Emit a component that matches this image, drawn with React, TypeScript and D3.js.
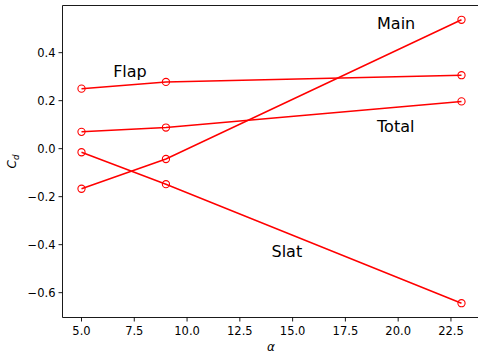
import React from "react";
import * as d3 from "d3";

const alpha = [5, 9, 23];
const flap = [0.25, 0.278, 0.306];
const total = [0.07, 0.088, 0.197];
const mainEl = [-0.167, -0.043, 0.537];
const slat = [-0.015, -0.148, -0.644];
const seriesNames = ["Flap", "Total", "Main", "Slat"];
const seriesValues = [flap, total, mainEl, slat];
const labelNames = ["Flap", "Main", "Total", "Slat"];
const labelX = [6.5, 19, 19, 14];
const labelY = [0.3, 0.5, 0.07, -0.45];
const xTicks = [5, 7.5, 10, 12.5, 15, 17.5, 20, 22.5];
const yTicks = [0.4, 0.2, 0.0, -0.2, -0.4, -0.6];

const W = 478;
const H = 356;
const left = 62.5;
const top = 5.5;
const bottom = 317.5;
const right = 480.5;

export default function App() {
  const x = d3.scaleLinear().domain([4.1, 23.9]).range([left, right]);
  const y = d3.scaleLinear().domain([-0.7035, 0.5965]).range([bottom, top]);
  const line = d3
    .line<number>()
    .x((_, i) => x(alpha[i]))
    .y((d) => y(d));
  const font = "DejaVu Sans, sans-serif";
  const fmt = (v: number) => (v < 0 ? "\u2212" + Math.abs(v).toFixed(1) : v.toFixed(1));
  return (
    <svg
      width={W}
      height={H}
      style={{ position: "absolute", left: 0, top: 0, background: "#fff" }}
      fontFamily={font}
    >
      <defs>
        <clipPath id="plotclip">
          <rect x={left} y={top} width={right - left} height={bottom - top} />
        </clipPath>
      </defs>
      <g clipPath="url(#plotclip)">
        {seriesValues.map((vals, si) => (
          <g key={seriesNames[si]}>
            <path d={line(vals) || ""} fill="none" stroke="#ff0000" strokeWidth={1.5} />
            {vals.map((v, i) => (
              <circle
                key={i}
                cx={x(alpha[i])}
                cy={y(v)}
                r={3.6}
                fill="none"
                stroke="#ff0000"
                strokeWidth={1.1}
              />
            ))}
          </g>
        ))}
      </g>
      {labelNames.map((n, i) => (
        <text key={n} x={x(labelX[i])} y={y(labelY[i])} fontSize={16} fill="#000">
          {n}
        </text>
      ))}
      {/* spines */}
      <path
        d={`M${right},${top}H${left}V${bottom}H${right}`}
        fill="none"
        stroke="#000"
        strokeWidth={0.9}
      />
      {xTicks.map((t) => (
        <g key={t} transform={`translate(${x(t)},${bottom})`}>
          <line y2={4} stroke="#000" strokeWidth={0.9} />
          <text y={17} textAnchor="middle" fontSize={11.5} fill="#000">
            {t.toFixed(1)}
          </text>
        </g>
      ))}
      {yTicks.map((t) => (
        <g key={t} transform={`translate(${left},${y(t)})`}>
          <line x2={-4} stroke="#000" strokeWidth={0.9} />
          <text x={-7} dy="0.35em" textAnchor="end" fontSize={11.5} fill="#000">
            {fmt(t)}
          </text>
        </g>
      ))}
      <text x={271} y={351} textAnchor="middle" fontSize={12} fontStyle="italic" fill="#000">
        α
      </text>
      <text
        transform={`translate(16,${(top + bottom) / 2}) rotate(-90)`}
        textAnchor="middle"
        fontSize={12}
        fontStyle="italic"
        fill="#000"
      >
        C<tspan fontSize={8.5} dy={2.5}>d</tspan>
      </text>
    </svg>
  );
}
